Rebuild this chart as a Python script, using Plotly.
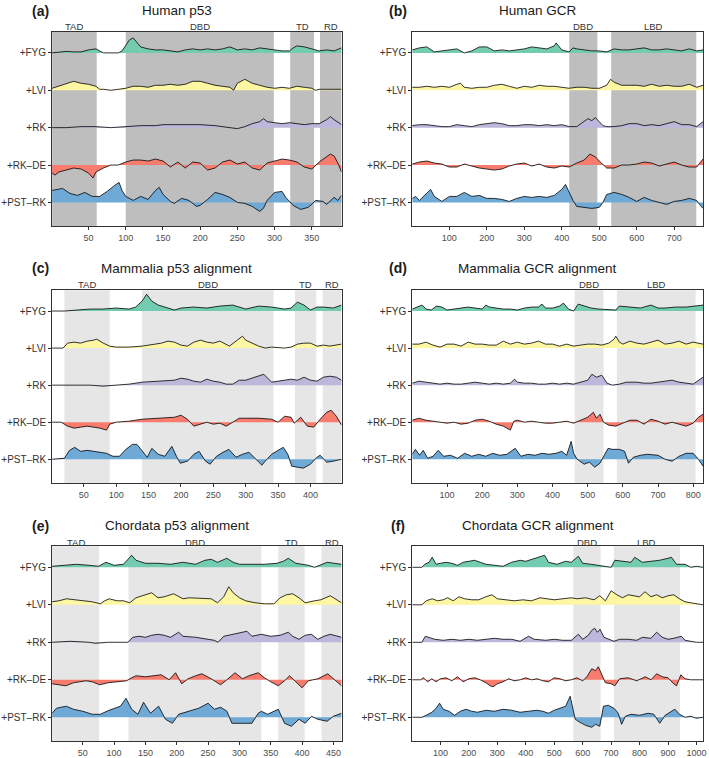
import plotly.graph_objects as go

# ---------------- data (profile heights, per residue position) ----------------
TRACKS = ["+FYG", "+LVI", "+RK", "+RK–DE", "+PST–RK"]
COLORS = ["#74CCB0", "#FDF6A3", "#BDB7DB", "#F87C6E", "#6FA9D6"]
OFFSETS = [149.6, 112.2, 74.8, 37.4, 0.0]

TITLES = ["Human p53", "Human GCR", "Mammalia p53 alignment", "Mammalia GCR alignment",
          "Chordata p53 alignment", "Chordata GCR alignment"]
LETTERS = ["(a)", "(b)", "(c)", "(d)", "(e)", "(f)"]
XMAX = [390, 777, 448, 828, 463, 1023]
XTICKS = [list(range(50, 351, 50)), list(range(100, 701, 100)), list(range(50, 401, 50)),
          list(range(100, 801, 100)), list(range(50, 451, 50)), list(range(100, 1001, 100))]

DOM_A = [("TAD", 1, 61), ("DBD", 100, 299), ("TD", 321, 353), ("RD", 361, 390)]
DOM_B = [("DBD", 420, 495), ("LBD", 532, 759)]
DOM_C = [("TAD", 20, 90), ("DBD", 140, 343), ("TD", 376, 409), ("RD", 419, 448)]
DOM_D = [("DBD", 463, 545), ("LBD", 583, 807)]
DOM_E = [("TAD", 1, 76), ("DBD", 123, 335), ("TD", 362, 404), ("RD", 431, 463)]
DOM_F = [("DBD", 567, 663), ("LBD", 710, 942)]

A_FYG = [(1,0),(10,1),(20,1.5),(30,1),(40,1),(50,3),(60,4),(70,0),(80,0),(90,0),(95,2),(100,8),(105,13),(110,15),(115,10),(120,6),(130,4),(140,3),(150,3),(160,2),(170,1),(180,3),(190,4),(200,3),(210,4),(220,3),(230,4),(240,6),(250,3),(260,4),(270,3),(280,5),(290,4),(300,3),(310,2),(320,2),(325,5),(330,7),(340,6),(350,4),(360,2),(370,3),(380,2),(390,5)]
A_LVI = [(1,2),(10,4),(20,7),(30,9),(40,7),(50,6),(60,4),(65,1),(70,1),(80,0),(90,1),(100,2),(110,4),(120,4),(130,3),(140,5),(150,5),(160,6),(170,5),(180,6),(190,9),(200,9),(210,7),(220,5),(230,4),(240,3),(245,0),(250,7),(260,11),(270,7),(280,5),(290,3),(300,2),(310,3),(320,2),(330,4),(340,3),(350,2),(355,0),(360,1),(370,1),(380,1),(390,1)]
A_RK = [(1,0),(20,0),(40,1),(60,1),(80,0),(100,1),(120,2),(140,2),(150,3),(160,3),(180,3),(200,3),(220,2),(230,1),(240,0),(250,-1),(260,1),(270,4),(280,6),(285,9),(290,6),(300,5),(310,4),(320,5),(330,4),(340,3),(350,4),(360,4),(370,8),(375,11),(380,8),(390,3)]
A_RKDE = [(1,-8),(5,-10),(10,-7),(20,-5),(30,-3),(40,-4),(50,-8),(56,-13),(60,-7),(70,-3),(80,0),(90,0),(100,3),(110,5),(120,5),(130,4),(140,6),(150,4),(160,-2),(170,3),(180,-3),(190,3),(200,2),(210,-5),(220,-3),(230,3),(240,5),(250,1),(260,3),(270,-3),(280,-5),(290,2),(300,4),(310,6),(320,5),(330,3),(340,-2),(350,-4),(360,3),(370,8),(375,11),(380,9),(385,2),(390,-7)]
A_PST = [(1,12),(10,13),(15,14),(25,9),(35,7),(45,10),(55,6),(65,6),(75,11),(85,17),(91,20),(95,12),(100,6),(110,2),(120,6),(130,3),(140,12),(145,15),(150,8),(160,1),(165,-1),(175,4),(185,2),(195,-4),(200,-3),(210,3),(220,10),(230,8),(240,5),(250,0),(260,-1),(270,-4),(280,-9),(285,-6),(290,2),(300,10),(310,11),(315,5),(325,-3),(335,-7),(345,-5),(350,-2),(355,2),(365,1),(370,-2),(380,5),(385,2),(390,7)]

B_FYG = [(1,3),(20,5),(40,6),(60,1),(80,2),(100,3),(120,4),(140,0),(160,2),(180,6),(200,6),(220,2),(240,3),(260,2),(280,3),(300,4),(320,6),(340,5),(360,4),(380,7),(385,10),(400,3),(420,1),(430,5),(440,4),(460,3),(480,2),(500,2),(520,1),(540,4),(560,3),(580,3),(600,4),(620,5),(640,3),(660,3),(680,4),(700,3),(720,2),(740,4),(760,2),(777,3)]
B_LVI = [(1,3),(20,3),(40,4),(60,3),(80,4),(100,3),(120,6),(130,7),(140,3),(160,2),(180,3),(200,3),(220,5),(240,6),(260,4),(280,2),(300,4),(320,3),(340,5),(360,4),(380,4),(400,3),(420,2),(440,3),(460,3),(480,2),(500,2),(520,5),(530,11),(540,8),(560,5),(580,5),(600,5),(620,4),(640,6),(660,4),(680,5),(700,4),(720,4),(740,6),(760,3),(777,5)]
B_RK = [(1,2),(20,3),(40,3),(60,2),(80,1),(100,1),(120,3),(140,2),(160,1),(180,3),(200,4),(220,5),(240,4),(260,2),(280,2),(300,3),(320,3),(340,2),(360,3),(380,2),(400,3),(420,1),(440,1),(460,6),(470,9),(480,7),(490,10),(500,6),(510,2),(520,1),(540,1),(560,2),(580,4),(600,4),(620,2),(640,3),(660,2),(680,4),(700,6),(720,3),(740,3),(760,1),(777,6)]
B_RKDE = [(1,1),(20,3),(40,4),(60,2),(80,1),(100,-2),(120,-2),(140,1),(160,-1),(180,-3),(200,-4),(220,-5),(240,-4),(260,-1),(280,1),(300,2),(320,-1),(340,1),(360,-2),(380,-3),(400,-1),(420,-2),(440,2),(460,5),(475,11),(490,8),(500,4),(520,-3),(540,-3),(560,0),(580,0),(600,1),(620,3),(640,2),(660,-1),(680,1),(700,3),(720,0),(740,-2),(760,-2),(777,6)]
B_PST = [(1,4),(10,6),(20,2),(40,10),(50,13),(60,6),(80,1),(100,6),(120,6),(140,10),(150,8),(160,6),(180,7),(200,4),(220,4),(240,3),(260,1),(280,4),(300,6),(320,5),(340,6),(360,5),(380,7),(400,13),(410,18),(420,10),(430,2),(440,-4),(460,-5),(480,-6),(500,-5),(510,0),(520,8),(540,10),(560,8),(580,5),(600,1),(620,5),(640,2),(660,0),(680,-2),(700,1),(720,2),(740,4),(760,2),(770,-3),(777,-6)]

C_FYG = [(1,0),(20,0),(40,1),(60,2),(80,2),(100,3),(120,2),(130,4),(140,10),(147,17),(155,10),(165,6),(180,3),(190,1),(200,3),(220,4),(240,3),(260,5),(280,6),(290,4),(300,2),(320,5),(340,4),(360,2),(370,3),(380,9),(390,6),(400,1),(410,4),(420,4),(435,3),(448,6)]
C_LVI = [(1,0),(18,0),(25,5),(35,6),(45,5),(55,7),(65,8),(70,9),(80,5),(90,2),(100,1),(120,1),(140,2),(160,4),(170,5),(180,7),(190,6),(200,3),(210,2),(220,6),(230,8),(240,6),(250,5),(260,7),(275,2),(285,7),(295,12),(300,8),(310,5),(320,2),(330,0),(340,1),(360,0),(370,1),(380,4),(390,5),(400,5),(410,2),(420,3),(430,2),(448,4)]
C_RK = [(1,0),(40,0),(60,0),(80,-1),(100,0),(120,1),(140,3),(160,4),(180,5),(190,5),(200,7),(210,6),(220,4),(230,3),(240,6),(250,4),(260,3),(270,1),(280,1),(290,5),(300,5),(310,7),(320,9),(328,11),(340,3),(350,4),(360,5),(370,6),(380,5),(390,8),(400,5),(410,4),(420,8),(430,9),(440,8),(448,5)]
C_RKDE = [(1,0),(15,0),(25,-4),(35,-6),(45,-5),(55,-4),(65,-5),(75,-6),(85,-8),(90,-2),(100,0),(120,1),(140,3),(160,4),(180,5),(190,5),(200,7),(210,3),(220,-4),(230,-2),(240,0),(250,-2),(260,-1),(270,-4),(280,0),(290,4),(300,4),(320,4),(340,3),(350,0),(360,6),(370,5),(375,-1),(385,5),(395,-4),(405,-5),(415,3),(425,10),(432,12),(440,6),(448,-3)]
C_PST = [(1,0),(20,1),(28,9),(36,12),(45,8),(55,9),(65,8),(74,7),(85,6),(95,3),(105,3),(115,10),(125,15),(132,15),(140,8),(148,2),(155,11),(165,5),(175,3),(186,13),(193,3),(199,-4),(210,-2),(220,5),(228,8),(238,-2),(245,-5),(255,3),(265,7),(274,10),(285,2),(295,5),(305,7),(315,0),(325,-6),(330,-2),(340,5),(350,9),(358,12),(365,5),(371,-7),(380,-8),(389,-9),(400,-5),(410,2),(415,4),(425,-3),(435,-2),(448,0)]

D_FYG = [(1,2),(15,4),(29,6),(40,2),(55,1),(70,5),(85,4),(100,1),(120,2),(140,3),(160,4),(200,2),(210,6),(220,4),(240,3),(260,2),(280,2),(300,1),(320,3),(340,4),(360,4),(370,7),(380,3),(400,3),(420,5),(431,8),(445,2),(460,0),(473,7),(490,5),(510,3),(530,2),(560,1),(580,1),(590,5),(620,4),(650,3),(680,6),(700,3),(720,3),(750,4),(780,4),(800,5),(828,6)]
D_LVI = [(1,4),(20,4),(40,6),(60,3),(80,1),(100,4),(120,4),(140,2),(160,6),(180,4),(200,4),(220,3),(240,3),(260,7),(280,4),(300,6),(320,4),(340,5),(360,7),(380,4),(400,4),(420,2),(440,4),(460,2),(480,3),(500,4),(520,4),(540,3),(560,5),(575,9),(580,12),(590,6),(600,4),(620,7),(640,5),(660,4),(680,6),(700,8),(720,4),(740,5),(760,7),(780,4),(800,6),(828,4)]
D_RK = [(1,2),(20,4),(40,3),(60,2),(80,1),(100,2),(120,1),(140,1),(160,2),(180,3),(200,2),(220,1),(240,2),(260,1),(280,2),(292,6),(300,3),(320,2),(340,2),(360,1),(380,1),(400,2),(420,1),(440,2),(460,1),(480,3),(500,5),(512,11),(525,8),(540,10),(555,2),(570,0),(590,1),(610,3),(640,3),(660,2),(680,2),(700,3),(720,4),(740,5),(760,3),(780,2),(800,1),(828,8)]
D_RKDE = [(1,2),(20,4),(40,2),(60,1),(80,0),(100,-1),(120,0),(140,-2),(160,-1),(180,2),(200,3),(220,1),(240,-2),(260,-4),(270,-6),(280,-8),(290,1),(300,2),(320,0),(340,1),(360,0),(380,-1),(400,-1),(420,0),(440,1),(460,-1),(480,2),(500,5),(516,10),(525,4),(535,8),(545,0),(560,-3),(580,-4),(600,-1),(620,2),(640,2),(660,-2),(680,3),(700,1),(720,-2),(740,0),(760,-2),(780,-4),(800,-1),(815,5),(828,8)]
D_PST = [(1,5),(10,10),(22,4),(32,9),(45,1),(60,3),(75,9),(90,3),(110,4),(130,1),(150,6),(170,3),(190,5),(210,3),(230,6),(250,4),(270,5),(294,11),(310,3),(330,5),(350,4),(370,6),(390,5),(410,6),(426,8),(440,4),(453,18),(460,6),(470,0),(490,-5),(505,-3),(520,-8),(535,-4),(545,3),(558,11),(570,10),(590,10),(605,8),(616,-4),(630,2),(650,4),(670,5),(700,4),(720,0),(740,-2),(760,3),(780,6),(800,6),(815,0),(828,-7)]

E_FYG = [(1,1),(20,2),(40,3),(60,2),(75,1),(87,5),(100,2),(115,3),(122,8),(128,12),(135,7),(150,4),(170,4),(190,3),(210,5),(230,3),(245,7),(255,8),(265,5),(280,9),(290,5),(300,3),(320,3),(340,3),(360,4),(370,6),(378,9),(390,4),(410,2),(420,0),(440,5),(463,3)]
E_LVI = [(1,3),(12,4),(24,6),(35,5),(50,4),(65,3),(78,1),(85,4),(92,6),(105,4),(115,4),(125,2),(135,7),(145,9),(160,12),(170,7),(180,8),(195,11),(210,6),(220,7),(240,6),(255,6),(265,2),(275,8),(283,18),(290,12),(300,7),(310,4),(325,2),(340,1),(355,1),(365,7),(375,10),(385,11),(395,7),(405,2),(420,4),(430,5),(445,9),(463,2)]
E_RK = [(1,0),(30,1),(60,0),(70,-1),(90,0),(110,0),(122,0),(130,5),(140,6),(150,5),(160,7),(170,8),(180,7),(190,5),(203,10),(210,6),(230,5),(250,3),(260,2),(266,0),(275,6),(290,8),(305,10),(312,11),(320,6),(335,8),(350,6),(365,7),(378,10),(385,6),(395,3),(405,7),(415,8),(425,3),(435,6),(445,8),(463,5)]
E_RKDE = [(1,-4),(12,-5),(23,-6),(35,-3),(45,-2),(55,-1),(65,-2),(77,-5),(90,-3),(105,-2),(120,-1),(128,2),(135,4),(150,3),(165,4),(175,5),(188,0),(198,7),(208,-4),(218,1),(230,4),(240,6),(255,1),(265,-3),(270,-5),(280,0),(293,7),(305,1),(315,4),(330,7),(340,2),(350,-2),(362,-6),(372,-1),(380,4),(390,-2),(400,-8),(410,-1),(425,1),(441,6),(450,1),(463,-6)]
E_PST = [(1,4),(8,9),(15,10),(24,11),(35,8),(50,6),(65,3),(78,3),(92,7),(100,9),(110,11),(119,19),(128,8),(138,3),(147,15),(158,4),(171,11),(182,-2),(193,-6),(203,3),(220,6),(235,9),(250,14),(260,8),(270,10),(280,6),(288,-6),(300,-6),(320,-6),(330,4),(335,6),(345,3),(362,8),(372,-6),(383,-9),(395,-2),(405,-6),(415,1),(425,-2),(440,-4),(450,1),(463,4)]

F_FYG = [(1,0),(35,0),(45,3),(60,5),(71,10),(85,3),(100,4),(120,5),(140,4),(160,2),(180,5),(200,6),(220,7),(240,5),(260,3),(290,2),(320,1),(350,5),(380,7),(400,6),(430,9),(455,11),(466,12),(480,5),(510,3),(540,6),(560,5),(585,11),(600,4),(630,3),(660,2),(690,1),(700,0),(713,7),(740,6),(770,5),(783,10),(810,5),(840,6),(870,7),(900,9),(912,10),(930,3),(960,3),(980,0),(1000,1),(1023,0)]
F_LVI = [(1,0),(35,0),(50,4),(71,6),(90,4),(110,5),(125,7),(145,4),(165,8),(185,6),(210,5),(235,5),(260,8),(281,10),(300,6),(330,5),(360,4),(390,5),(420,4),(450,7),(470,6),(500,5),(530,6),(560,7),(580,6),(610,7),(640,5),(660,9),(680,4),(700,14),(720,10),(740,7),(760,10),(780,9),(800,8),(819,13),(840,8),(860,10),(880,7),(900,9),(920,10),(940,6),(960,3),(980,2),(1023,0)]
F_RK = [(1,0),(35,0),(47,6),(60,5),(80,3),(110,2),(140,3),(170,2),(200,3),(230,2),(260,3),(290,4),(320,3),(350,3),(380,1),(400,4),(410,6),(430,3),(470,2),(500,3),(530,2),(560,2),(585,8),(600,3),(620,7),(632,12),(642,14),(652,10),(661,13),(675,5),(690,3),(710,1),(730,3),(760,3),(790,2),(810,5),(840,4),(860,10),(880,5),(900,3),(920,4),(947,6),(960,2),(1000,0),(1023,0)]
F_RKDE = [(1,0),(30,0),(40,2),(55,-2),(70,1),(85,-2),(100,1),(120,2),(140,-1),(160,3),(180,-2),(200,1),(220,2),(240,0),(260,-3),(275,-6),(285,-7),(300,-4),(320,-2),(340,1),(360,-1),(380,0),(400,2),(420,0),(440,1),(460,-1),(480,-2),(500,2),(520,1),(540,-1),(560,0),(580,2),(600,-1),(615,3),(632,11),(645,9),(655,13),(665,6),(680,-3),(700,-4),(713,-6),(730,1),(760,2),(790,-1),(820,3),(840,0),(860,6),(880,3),(900,2),(920,-4),(930,-6),(945,5),(960,1),(980,0),(1023,0)]
F_PST = [(1,0),(35,0),(50,2),(70,5),(85,9),(97,14),(110,8),(130,6),(150,2),(170,6),(190,8),(210,6),(230,5),(260,7),(290,6),(320,8),(350,7),(380,5),(410,6),(440,7),(460,6),(480,4),(500,7),(520,9),(540,11),(556,21),(565,8),(574,-2),(590,-5),(610,-8),(632,-10),(645,-7),(660,-9),(673,11),(690,12),(710,9),(725,4),(737,-7),(750,1),(770,3),(800,2),(830,4),(850,3),(871,-6),(890,2),(910,6),(924,8),(940,3),(960,0),(980,1),(1000,-1),(1023,0)]

PANELS = [
    [A_FYG, A_LVI, A_RK, A_RKDE, A_PST],
    [B_FYG, B_LVI, B_RK, B_RKDE, B_PST],
    [C_FYG, C_LVI, C_RK, C_RKDE, C_PST],
    [D_FYG, D_LVI, D_RK, D_RKDE, D_PST],
    [E_FYG, E_LVI, E_RK, E_RKDE, E_PST],
    [F_FYG, F_LVI, F_RK, F_RKDE, F_PST],
]
DOMAINS = [DOM_A, DOM_B, DOM_C, DOM_D, DOM_E, DOM_F]
SHADE = ["#bebebe", "#bebebe", "#e6e6e6", "#e6e6e6", "#e6e6e6", "#e6e6e6"]

# ---------------- layout geometry ----------------
W, H = 709, 758
COLS = [(52.3, 343.0), (414.0, 706.0)]
ROWS = [(32.0, 227.0), (291.0, 484.3), (547.7, 743.3)]
TITLE_X = [177.5, 540.0]
LETTER_X = [41.0, 400.0]
TITLE_Y = [10.7, 269.0, 527.3]
DOMLAB_Y = [26.7, 285.7, 544.3]
FONT = "Liberation Sans, Arial, Helvetica, sans-serif"

fig = go.Figure()
shapes, annotations = [], []
layout = {}

for i in range(6):
    r, c = divmod(i, 2)
    ax = "" if i == 0 else str(i + 1)
    xa, ya = "x" + ax, "y" + ax
    xmax = XMAX[i]
    for k, series in enumerate(PANELS[i]):
        off = OFFSETS[k]
        xs = [p[0] for p in series]
        ys = [off + p[1] for p in series]
        fig.add_trace(go.Scatter(x=[1, xmax], y=[off, off], mode="lines",
                                 line=dict(width=0, color="rgba(0,0,0,0)"),
                                 hoverinfo="skip", showlegend=False, xaxis=xa, yaxis=ya))
        fig.add_trace(go.Scatter(x=xs, y=ys, mode="lines", fill="tonexty",
                                 fillcolor=COLORS[k], line=dict(color="black", width=0.8),
                                 name=TRACKS[k], showlegend=False, xaxis=xa, yaxis=ya))
    for (lab, d0, d1) in DOMAINS[i]:
        shapes.append(dict(type="rect", xref=xa, yref=ya + " domain", x0=d0, x1=d1, y0=0, y1=1,
                           fillcolor=SHADE[i], line=dict(width=0), layer="below"))
        annotations.append(dict(text=lab, xref=xa, yref="paper", x=(d0 + d1) / 2,
                                y=1 - DOMLAB_Y[r] / H, showarrow=False, yanchor="middle",
                                font=dict(size=9.5, color="#333333", family=FONT)))
    x0, x1 = COLS[c]
    y0, y1 = ROWS[r]
    layout["xaxis" + ax] = dict(domain=[x0 / W, x1 / W], range=[1, xmax], anchor=ya,
                                tickvals=XTICKS[i], ticks="outside", ticklen=3, tickcolor="#333333",
                                tickfont=dict(size=9, color="#4d4d4d", family=FONT),
                                ticklabeloverflow="allow",
                                showline=True, mirror=True, linecolor="#333333", linewidth=1,
                                showgrid=False, zeroline=False)
    layout["yaxis" + ax] = dict(domain=[1 - y1 / H, 1 - y0 / H], range=[-24.0, 170.6], anchor=xa,
                                tickvals=OFFSETS, ticktext=TRACKS, ticks="outside", ticklen=3,
                                tickcolor="#333333",
                                tickfont=dict(size=10, color="#333333", family=FONT),
                                showline=True, mirror=True, linecolor="#333333", linewidth=1,
                                showgrid=False, zeroline=False)
    annotations.append(dict(text=TITLES[i], xref="paper", yref="paper", x=TITLE_X[c] / W,
                            y=1 - TITLE_Y[r] / H, showarrow=False, xanchor="center", yanchor="middle",
                            font=dict(size=13.5, color="#1a1a1a", family=FONT)))
    annotations.append(dict(text="<b>" + LETTERS[i] + "</b>", xref="paper", yref="paper",
                            x=LETTER_X[c] / W, y=1 - TITLE_Y[r] / H, showarrow=False,
                            xanchor="center", yanchor="middle",
                            font=dict(size=14, color="#1a1a1a", family=FONT)))

fig.update_layout(width=W, height=H, margin=dict(l=0, r=0, t=0, b=0),
                  paper_bgcolor="white", plot_bgcolor="white",
                  shapes=shapes, annotations=annotations, showlegend=False, **layout)
fig.write_html("out.html", config={"displayModeBar": False},
               post_script="document.body.style.margin='0';document.body.style.padding='0';"
                           "document.documentElement.style.overflow='hidden';")
